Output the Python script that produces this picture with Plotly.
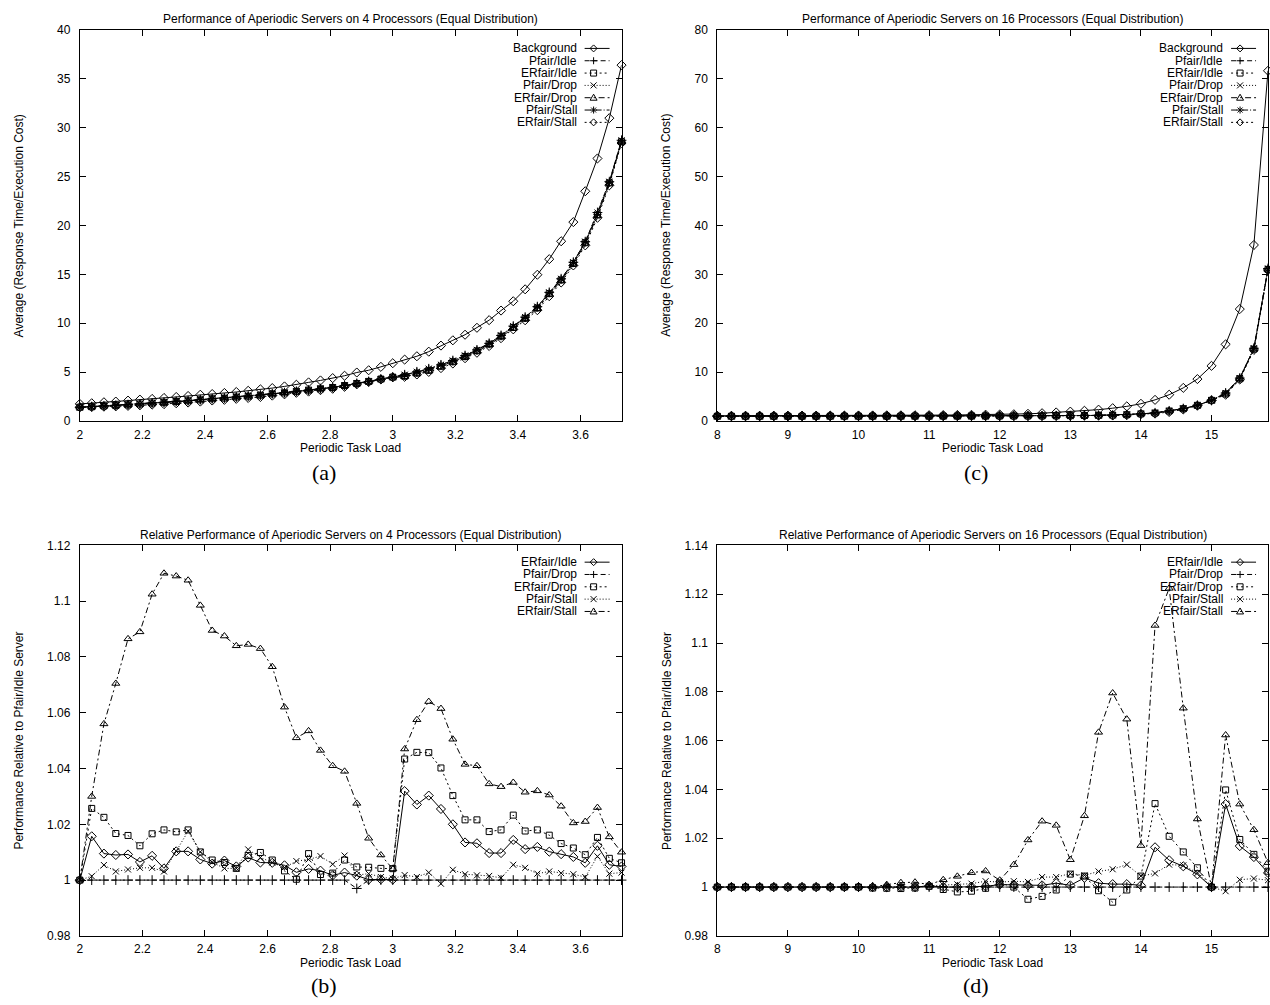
import plotly.graph_objects as go

W, H = 1270, 1005
FONT = "Liberation Sans, Arial, Helvetica, sans-serif"
SERIF = "Liberation Serif, Times New Roman, serif"

# ---------------- data ----------------
load4 = [2.0, 2.038, 2.077, 2.115, 2.154, 2.192, 2.231, 2.269, 2.308, 2.346,
         2.385, 2.423, 2.462, 2.5, 2.538, 2.577, 2.615, 2.654, 2.692, 2.731,
         2.769, 2.808, 2.846, 2.885, 2.923, 2.962, 3.0, 3.038, 3.077, 3.115,
         3.154, 3.192, 3.231, 3.269, 3.308, 3.346, 3.385, 3.423, 3.462, 3.5,
         3.538, 3.577, 3.615, 3.654, 3.692, 3.731]
load16 = [8.0, 8.2, 8.4, 8.6, 8.8, 9.0, 9.2, 9.4, 9.6, 9.8,
          10.0, 10.2, 10.4, 10.6, 10.8, 11.0, 11.2, 11.4, 11.6, 11.8,
          12.0, 12.2, 12.4, 12.6, 12.8, 13.0, 13.2, 13.4, 13.6, 13.8,
          14.0, 14.2, 14.4, 14.6, 14.8, 15.0, 15.2, 15.4, 15.6, 15.8]

# (a) 4 processors, average response time / execution cost
background_4 = [1.76, 1.83, 1.93, 2.00, 2.10, 2.20, 2.27, 2.37, 2.47, 2.57,
                2.70, 2.77, 2.88, 2.98, 3.10, 3.25, 3.38, 3.55, 3.72, 3.96,
                4.16, 4.40, 4.64, 4.97, 5.20, 5.55, 5.92, 6.29, 6.63, 7.10,
                7.72, 8.26, 8.83, 9.54, 10.32, 11.30, 12.25, 13.47, 14.96, 16.55,
                18.38, 20.34, 23.49, 26.84, 30.96, 36.38]
pfair_idle_4 = [1.42, 1.49, 1.56, 1.62, 1.69, 1.76, 1.86, 1.93, 2.03, 2.10,
                2.20, 2.30, 2.37, 2.47, 2.57, 2.67, 2.81, 2.91, 3.05, 3.18,
                3.32, 3.45, 3.65, 3.86, 4.06, 4.30, 4.50, 4.74, 5.04, 5.35,
                5.75, 6.19, 6.70, 7.28, 7.95, 8.76, 9.71, 10.63, 11.70, 13.16,
                14.55, 16.24, 18.34, 21.32, 24.47, 28.70]
erfair_idle_4 = [1.42, 1.47, 1.55, 1.61, 1.67, 1.75, 1.84, 1.92, 2.01, 2.08,
                 2.18, 2.29, 2.35, 2.46, 2.55, 2.65, 2.79, 2.89, 3.04, 3.17,
                 3.31, 3.44, 3.64, 3.85, 4.06, 4.30, 4.50, 4.59, 4.91, 5.19,
                 5.61, 6.07, 6.61, 7.19, 7.87, 8.68, 9.57, 10.51, 11.56, 13.03,
                 14.42, 16.11, 18.23, 21.06, 24.34, 28.56]
pfair_drop_4 = [1.42, 1.49, 1.56, 1.62, 1.69, 1.76, 1.86, 1.93, 2.03, 2.10,
                2.20, 2.30, 2.37, 2.47, 2.57, 2.67, 2.81, 2.91, 3.05, 3.18,
                3.32, 3.45, 3.65, 3.87, 4.06, 4.30, 4.50, 4.74, 5.04, 5.35,
                5.75, 6.19, 6.70, 7.28, 7.95, 8.76, 9.71, 10.63, 11.70, 13.16,
                14.55, 16.24, 18.34, 21.32, 24.47, 28.70]
erfair_drop_4 = [1.42, 1.45, 1.53, 1.59, 1.66, 1.74, 1.83, 1.90, 2.00, 2.06,
                 2.18, 2.28, 2.36, 2.46, 2.55, 2.64, 2.79, 2.90, 3.05, 3.15,
                 3.31, 3.44, 3.62, 3.84, 4.04, 4.28, 4.48, 4.54, 4.82, 5.12,
                 5.53, 6.01, 6.56, 7.13, 7.81, 8.61, 9.49, 10.45, 11.49, 12.95,
                 14.36, 16.06, 18.17, 21.00, 24.28, 28.52]
pfair_stall_4 = [1.42, 1.49, 1.55, 1.61, 1.68, 1.75, 1.85, 1.92, 2.01, 2.06,
                 2.18, 2.29, 2.36, 2.46, 2.54, 2.65, 2.79, 2.90, 3.03, 3.16,
                 3.29, 3.43, 3.62, 3.85, 4.05, 4.30, 4.50, 4.73, 5.03, 5.34,
                 5.76, 6.17, 6.69, 7.27, 7.94, 8.75, 9.66, 10.58, 11.67, 13.12,
                 14.51, 16.21, 18.32, 21.14, 24.41, 28.62]
erfair_stall_4 = [1.42, 1.45, 1.48, 1.51, 1.56, 1.62, 1.69, 1.74, 1.83, 1.90,
                  2.00, 2.11, 2.18, 2.28, 2.37, 2.47, 2.61, 2.74, 2.90, 3.02,
                  3.17, 3.31, 3.51, 3.76, 4.00, 4.26, 4.48, 4.53, 4.77, 5.03,
                  5.42, 5.89, 6.43, 6.99, 7.68, 8.48, 9.38, 10.31, 11.34, 12.77,
                  14.17, 15.91, 17.96, 20.78, 24.10, 28.42]

# (b) 4 processors, relative to Pfair/Idle
rel_erfair_idle_4 = [1.0, 1.0157, 1.0095, 1.009, 1.0092, 1.0065, 1.0087, 1.0042, 1.0103, 1.0103,
                     1.0074, 1.0059, 1.007, 1.0049, 1.0081, 1.0063, 1.0062, 1.0053, 1.0028, 1.004,
                     1.0034, 1.0017, 1.0027, 1.0016, 1.0002, 1.0003, 1.0002, 1.0319, 1.0271, 1.0303,
                     1.0255, 1.02, 1.0135, 1.0132, 1.0097, 1.0097, 1.0144, 1.0111, 1.0119, 1.0102,
                     1.0093, 1.0083, 1.0062, 1.0123, 1.0055, 1.0049]
rel_pfair_drop_4 = [1.0, 1.0, 1.0, 1.0, 1.0, 1.0, 1.0, 1.0, 1.0, 1.0,
                    1.0, 1.0, 1.0, 1.0, 1.0, 1.0, 1.0, 1.0, 1.0, 1.0,
                    1.0, 1.0, 1.0, 0.997, 1.0, 1.0, 1.0, 1.0, 1.0, 1.0,
                    1.0, 1.0, 1.0, 1.0, 1.0, 1.0, 1.0, 1.0, 1.0, 1.0,
                    1.0, 1.0, 1.0, 1.0, 1.0, 1.0]
rel_erfair_drop_4 = [1.0, 1.0257, 1.0225, 1.0167, 1.016, 1.0123, 1.0166, 1.018, 1.0173, 1.018,
                     1.0101, 1.0072, 1.0063, 1.0042, 1.0088, 1.0099, 1.0072, 1.0033, 1.0003, 1.0095,
                     1.002, 1.0025, 1.0072, 1.0047, 1.0046, 1.0042, 1.0041, 1.0434, 1.0458, 1.0457,
                     1.0402, 1.0303, 1.0216, 1.0216, 1.0174, 1.018, 1.0233, 1.0176, 1.018, 1.0161,
                     1.0131, 1.0115, 1.0091, 1.0153, 1.0078, 1.0062]
rel_pfair_stall_4 = [1.0, 1.0014, 1.0054, 1.0031, 1.0038, 1.0044, 1.0044, 1.0031, 1.0104, 1.0175,
                     1.0101, 1.0064, 1.0042, 1.0042, 1.011, 1.0081, 1.0063, 1.0045, 1.0068, 1.0074,
                     1.0086, 1.0057, 1.0088, 1.0018, 1.0023, 1.0011, 1.0005, 1.0018, 1.0011, 1.0027,
                     0.9987, 1.0037, 1.0021, 1.0017, 1.0015, 1.0008, 1.0055, 1.0044, 1.0023, 1.0031,
                     1.0025, 1.0021, 1.0011, 1.0085, 1.0023, 1.0027]
rel_erfair_stall_4 = [1.0, 1.030, 1.056, 1.0705, 1.0865, 1.089, 1.1025, 1.110, 1.109, 1.1075,
                      1.0985, 1.0895, 1.0875, 1.084, 1.0845, 1.083, 1.0765, 1.062, 1.051, 1.0535,
                      1.0465, 1.041, 1.039, 1.0275, 1.015, 1.009, 1.004, 1.047, 1.0575, 1.064,
                      1.0615, 1.0505, 1.0415, 1.041, 1.0345, 1.0335, 1.035, 1.0315, 1.032, 1.0305,
                      1.0265, 1.0205, 1.021, 1.026, 1.0155, 1.010]

# (c) 16 processors, average response time / execution cost
background_16 = [1.10, 1.10, 1.11, 1.11, 1.12, 1.12, 1.13, 1.13, 1.14, 1.15,
                 1.16, 1.17, 1.18, 1.19, 1.20, 1.22, 1.24, 1.26, 1.29, 1.32,
                 1.36, 1.41, 1.50, 1.62, 1.78, 1.95, 2.12, 2.35, 2.65, 3.02,
                 3.55, 4.35, 5.40, 6.80, 8.60, 11.30, 15.70, 22.90, 36.00, 71.60]
pfair_idle_16 = [1.00, 1.00, 1.00, 1.00, 1.00, 1.00, 1.01, 1.01, 1.01, 1.01,
                 1.01, 1.01, 1.01, 1.02, 1.02, 1.02, 1.03, 1.03, 1.04, 1.04,
                 1.05, 1.06, 1.07, 1.08, 1.10, 1.12, 1.15, 1.19, 1.24, 1.32,
                 1.49, 1.70, 2.10, 2.57, 3.25, 4.26, 5.75, 8.80, 14.90, 31.20]
erfair_idle_16 = [1.00, 1.00, 1.00, 1.00, 1.00, 1.00, 1.01, 1.01, 1.01, 1.01,
                  1.01, 1.01, 1.01, 1.02, 1.02, 1.02, 1.03, 1.03, 1.04, 1.04,
                  1.05, 1.06, 1.07, 1.08, 1.10, 1.12, 1.15, 1.19, 1.24, 1.32,
                  1.49, 1.67, 2.08, 2.55, 3.23, 4.26, 5.56, 8.65, 14.72, 31.02]
pfair_drop_16 = [1.00, 1.00, 1.00, 1.00, 1.00, 1.00, 1.01, 1.01, 1.01, 1.01,
                 1.01, 1.01, 1.01, 1.02, 1.02, 1.02, 1.03, 1.03, 1.04, 1.04,
                 1.05, 1.06, 1.07, 1.08, 1.10, 1.12, 1.15, 1.19, 1.24, 1.32,
                 1.49, 1.70, 2.10, 2.57, 3.25, 4.26, 5.75, 8.80, 14.90, 31.20]
erfair_drop_16 = [1.00, 1.00, 1.00, 1.00, 1.00, 1.00, 1.01, 1.01, 1.01, 1.01,
                  1.01, 1.01, 1.01, 1.02, 1.02, 1.02, 1.03, 1.03, 1.04, 1.04,
                  1.05, 1.06, 1.08, 1.08, 1.10, 1.11, 1.14, 1.19, 1.25, 1.32,
                  1.48, 1.64, 2.06, 2.53, 3.22, 4.26, 5.53, 8.63, 14.70, 31.00]
pfair_stall_16 = [1.00, 1.00, 1.00, 1.00, 1.00, 1.00, 1.01, 1.01, 1.01, 1.01,
                  1.01, 1.01, 1.01, 1.02, 1.02, 1.02, 1.03, 1.03, 1.04, 1.04,
                  1.05, 1.06, 1.07, 1.08, 1.10, 1.11, 1.14, 1.18, 1.23, 1.31,
                  1.48, 1.69, 2.08, 2.55, 3.23, 4.26, 5.76, 8.77, 14.85, 31.11]
erfair_stall_16 = [1.00, 1.00, 1.00, 1.00, 1.00, 1.00, 1.01, 1.01, 1.01, 1.01,
                   1.01, 1.01, 1.01, 1.02, 1.02, 1.02, 1.03, 1.03, 1.03, 1.03,
                   1.05, 1.05, 1.05, 1.05, 1.07, 1.11, 1.12, 1.12, 1.15, 1.24,
                   1.47, 1.54, 1.87, 2.39, 3.16, 4.26, 5.41, 8.51, 14.56, 30.89]

# (d) 16 processors, relative to Pfair/Idle
rel_erfair_idle_16 = [1.0, 1.0, 1.0, 1.0, 1.0, 1.0, 1.0, 1.0, 1.0, 1.0,
                      1.0, 1.0, 1.0, 1.0, 1.0, 1.0005, 1.0, 1.0, 1.0002, 1.0003,
                      1.001, 1.001, 1.0007, 1.0007, 1.0016, 1.0007, 1.0038, 1.0016, 1.0012, 1.0012,
                      1.0007, 1.0163, 1.011, 1.0085, 1.0052, 1.0, 1.034, 1.0168, 1.0123, 1.0058]
rel_pfair_drop_16 = [1.0, 1.0, 1.0, 1.0, 1.0, 1.0, 1.0, 1.0, 1.0, 1.0,
                     1.0, 1.0, 1.0, 1.0, 1.0, 1.0, 1.0, 1.0, 1.0, 1.0,
                     1.0, 1.0, 1.0, 1.0, 1.0, 1.0, 1.0, 1.0, 1.0, 1.0,
                     1.0, 1.0, 1.0, 1.0, 1.0, 1.0, 1.0, 1.0, 1.0, 1.0]
rel_erfair_drop_16 = [1.0, 1.0, 1.0, 1.0, 1.0, 1.0, 1.0, 1.0, 1.0, 1.0,
                      1.0, 0.9996, 0.9995, 0.9994, 0.9996, 1.0003, 0.999, 0.998, 0.9983, 0.9995,
                      1.0017, 1.0, 0.995, 0.9962, 0.9988, 1.0053, 1.0045, 0.9985, 0.9938, 0.9988,
                      1.0045, 1.0342, 1.0208, 1.0144, 1.0079, 1.0, 1.0398, 1.0195, 1.0134, 1.0065]
rel_pfair_stall_16 = [1.0, 1.0, 1.0, 1.0, 1.0, 1.0, 1.0, 1.0, 1.0, 1.0,
                      1.0, 1.0, 1.0, 1.0, 1.0, 1.0005, 1.0008, 1.0011, 1.0014, 1.0024,
                      1.002, 1.0024, 1.0021, 1.0041, 1.0041, 1.0055, 1.0048, 1.0064, 1.0073, 1.0092,
                      1.0045, 1.0056, 1.0092, 1.0089, 1.0058, 1.0, 0.9983, 1.003, 1.0035, 1.0028]
rel_erfair_stall_16 = [1.0, 1.0, 1.0, 1.0, 1.0, 1.0, 1.0, 1.0, 1.0, 1.0,
                       1.0, 1.0, 1.001, 1.0018, 1.002, 1.001, 1.003, 1.0044, 1.0059, 1.0066,
                       1.0028, 1.0092, 1.0193, 1.027, 1.0253, 1.0112, 1.0292, 1.0634, 1.0795, 1.0688,
                       1.017, 1.1072, 1.1224, 1.0733, 1.0279, 1.0, 1.0623, 1.034, 1.0235, 1.01]

# tick labels
ticks_x4 = [2, 2.2, 2.4, 2.6, 2.8, 3, 3.2, 3.4, 3.6]
ticks_x16 = [8, 9, 10, 11, 12, 13, 14, 15]
ticks_ya = [0, 5, 10, 15, 20, 25, 30, 35, 40]
ticks_yc = [0, 10, 20, 30, 40, 50, 60, 70, 80]
ticks_yb = [0.98, 1.0, 1.02, 1.04, 1.06, 1.08, 1.1, 1.12]
ticks_yd = [0.98, 1.0, 1.02, 1.04, 1.06, 1.08, 1.1, 1.12, 1.14]
tlab_yb = ["0.98", "1", "1.02", "1.04", "1.06", "1.08", "1.1", "1.12"]
tlab_yd = ["0.98", "1", "1.02", "1.04", "1.06", "1.08", "1.1", "1.12", "1.14"]

titles = {
    "a": "Performance of Aperiodic Servers on 4 Processors (Equal Distribution)",
    "c": "Performance of Aperiodic Servers on 16 Processors (Equal Distribution)",
    "b": "Relative Performance of Aperiodic Servers on 4 Processors (Equal Distribution)",
    "d": "Relative Performance of Aperiodic Servers on 16 Processors (Equal Distribution)",
}

# ---------------- styles ----------------
STY_ABS = {
    "Background": ("diamond-open", 7, "solid", "diamond"),
    "Pfair/Idle": ("cross-thin-open", 7, "5px,3px", "plus"),
    "ERfair/Idle": ("square-open", 6, "2px,3px", "square"),
    "Pfair/Drop": ("x-thin-open", 6, "1px,2px", "x"),
    "ERfair/Drop": ("triangle-up-open", 7, "6px,3px,2px,3px", "tri"),
    "Pfair/Stall": ("asterisk-open", 7, "6px,2px,1px,2px", "ast"),
    "ERfair/Stall": ("diamond-open", 7, "2px,3px", "diamond"),
}
STY_REL = {
    "ERfair/Idle": ("diamond-open", 7, "solid", "diamond"),
    "Pfair/Drop": ("cross-thin-open", 7, "5px,3px", "plus"),
    "ERfair/Drop": ("square-open", 6, "2px,3px", "square"),
    "Pfair/Stall": ("x-thin-open", 6, "1px,2px", "x"),
    "ERfair/Stall": ("triangle-up-open", 7, "6px,3px,2px,3px", "tri"),
}
PATHS = {
    "diamond": "M-3.5,0L0,3.5L3.5,0L0,-3.5Z",
    "square": "M-3,-3L3,-3L3,3L-3,3Z",
    "tri": "M-3.5,-2.5L3.5,-2.5L0,3.5Z",
    "plus": "M-3.5,0L3.5,0M0,-3.5L0,3.5",
    "x": "M-3,-3L3,3M-3,3L3,-3",
    "ast": "M-3.5,0L3.5,0M0,-3.5L0,3.5M-2.5,-2.5L2.5,2.5M-2.5,2.5L2.5,-2.5",
}

# panel pixel boxes: left, right, top, bottom
BOX = {
    "a": (77, 620, 23, 420),
    "c": (716, 1268, 23, 420),
    "b": (77, 620, 546, 942),
    "d": (716, 1268, 546, 942),
}
YTITLE_X = {"a": 16, "b": 16, "c": 665, "d": 665}
AX = {"a": "", "c": "2", "b": "3", "d": "4"}


def px(x):
    return x / W


def py(y):
    return 1 - y / H


fig = go.Figure()

panels = {
    "a": (load4, [("Background", background_4), ("Pfair/Idle", pfair_idle_4),
                  ("ERfair/Idle", erfair_idle_4), ("Pfair/Drop", pfair_drop_4),
                  ("ERfair/Drop", erfair_drop_4), ("Pfair/Stall", pfair_stall_4),
                  ("ERfair/Stall", erfair_stall_4)], STY_ABS),
    "c": (load16, [("Background", background_16), ("Pfair/Idle", pfair_idle_16),
                   ("ERfair/Idle", erfair_idle_16), ("Pfair/Drop", pfair_drop_16),
                   ("ERfair/Drop", erfair_drop_16), ("Pfair/Stall", pfair_stall_16),
                   ("ERfair/Stall", erfair_stall_16)], STY_ABS),
    "b": (load4, [("ERfair/Idle", rel_erfair_idle_4), ("Pfair/Drop", rel_pfair_drop_4),
                  ("ERfair/Drop", rel_erfair_drop_4), ("Pfair/Stall", rel_pfair_stall_4),
                  ("ERfair/Stall", rel_erfair_stall_4)], STY_REL),
    "d": (load16, [("ERfair/Idle", rel_erfair_idle_16), ("Pfair/Drop", rel_pfair_drop_16),
                   ("ERfair/Drop", rel_erfair_drop_16), ("Pfair/Stall", rel_pfair_stall_16),
                   ("ERfair/Stall", rel_erfair_stall_16)], STY_REL),
}

shapes = []
annotations = []
txt = dict(family=FONT, size=12, color="black")

for key, (xs, series, sty) in panels.items():
    s = AX[key]
    for name, ys in series:
        sym, size, dash, _ = sty[name]
        fig.add_trace(go.Scatter(
            x=xs, y=ys, name=name, mode="lines+markers",
            xaxis="x" + s, yaxis="y" + s, showlegend=False, cliponaxis=False,
            line=dict(color="black", width=1, dash=dash),
            marker=dict(symbol=sym, size=size, color="black",
                        line=dict(color="black", width=1)),
        ))
    # gnuplot-style key: text, then line sample with point
    L, R, T, B = BOX[key]
    for i, (name, _) in enumerate(series):
        sym, size, dash, pkey = sty[name]
        yrow = T + 19 + 12.5 * i if key in ("a", "c") else T + 17 + 12.5 * i
        annotations.append(dict(text=name, x=px(R - 43), y=py(yrow), xref="paper", yref="paper",
                                xanchor="right", yanchor="middle", showarrow=False, font=txt))
        shapes.append(dict(type="line", xref="paper", yref="paper",
                           x0=px(R - 37), x1=px(R - 12), y0=py(yrow), y1=py(yrow),
                           line=dict(color="black", width=1, dash=dash)))
        shapes.append(dict(type="path", xref="paper", yref="paper",
                           xsizemode="pixel", ysizemode="pixel",
                           xanchor=px(R - 28), yanchor=py(yrow), path=PATHS[pkey],
                           line=dict(color="black", width=1), fillcolor="rgba(0,0,0,0)"))
    # titles / axis titles / captions
    cx = (L + R) / 2
    annotations.append(dict(text=titles[key], x=px(cx), y=py(T - 11), xref="paper", yref="paper",
                            xanchor="center", yanchor="middle", showarrow=False, font=txt))
    annotations.append(dict(text="Periodic Task Load", x=px(cx), y=py(B + 27), xref="paper", yref="paper",
                            xanchor="center", yanchor="middle", showarrow=False, font=txt))
    ytitle = ("Average (Response Time/Execution Cost)" if key in ("a", "c")
              else "Performance Relative to Pfair/Idle Server")
    annotations.append(dict(text=ytitle, x=px(YTITLE_X[key]), y=py((T + B) / 2), xref="paper", yref="paper",
                            xanchor="center", yanchor="middle", textangle=-90, showarrow=False, font=txt))
    capx = 322 if key in ("a", "b") else 975
    capy = 472 if key in ("a", "c") else 992
    annotations.append(dict(text="(" + key + ")", x=px(capx), y=py(capy), xref="paper", yref="paper",
                            xanchor="center", yanchor="middle", showarrow=False,
                            font=dict(family=SERIF, size=22, color="black")))

common = dict(showline=True, linecolor="black", linewidth=1, mirror="ticks",
              ticks="inside", ticklen=6, tickwidth=1, tickcolor="black",
              showgrid=False, zeroline=False, tickfont=txt)

layout_axes = {}
yinfo = {
    "a": ([0, 40], ticks_ya, [str(v) for v in ticks_ya], [2, load4[-1]], ticks_x4),
    "c": ([0, 80], ticks_yc, [str(v) for v in ticks_yc], [8, load16[-1]], ticks_x16),
    "b": ([0.98, 1.12], ticks_yb, tlab_yb, [2, load4[-1]], ticks_x4),
    "d": ([0.98, 1.14], ticks_yd, tlab_yd, [8, load16[-1]], ticks_x16),
}
for key, (yr, yt, ytl, xr, xt) in yinfo.items():
    s = AX[key]
    L, R, T, B = BOX[key]
    layout_axes["xaxis" + s] = dict(common, domain=[px(L), px(R)], range=xr,
                                    anchor="y" + s, tickvals=xt,
                                    ticktext=[("%g" % v) for v in xt], ticklabelstandoff=2)
    layout_axes["yaxis" + s] = dict(common, domain=[py(B), py(T)], range=yr,
                                    anchor="x" + s, tickvals=yt, ticktext=ytl,
                                    ticklabelstandoff=6)

fig.update_layout(width=W, height=H, margin=dict(l=0, r=0, t=0, b=0),
                  paper_bgcolor="white", plot_bgcolor="white",
                  showlegend=False, shapes=shapes, annotations=annotations,
                  **layout_axes)

fig.write_html("out.html")
